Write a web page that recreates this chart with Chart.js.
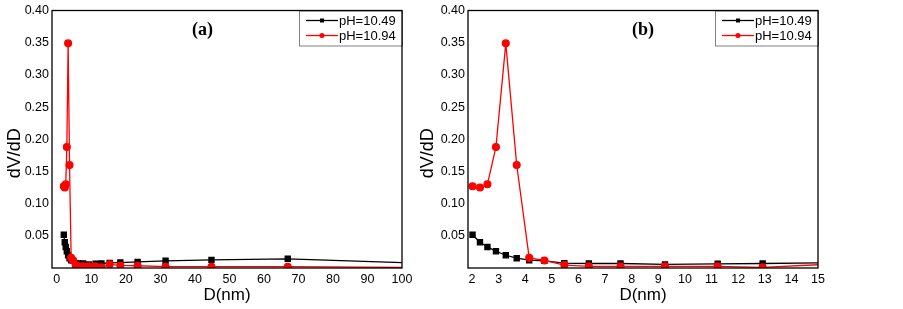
<!DOCTYPE html>
<html lang="en">
<head>
<meta charset="UTF-8">
<title>dV/dD vs D</title>
<script src="https://cdn.jsdelivr.net/npm/chart.js"></script>
<style>
  body { margin: 0; background: #fff; }
  canvas { position: absolute; top: 0; }
  #chartA { left: 0; }
  #chartB { left: 405px; }
</style>
</head>
<body>
<canvas id="chartA" width="420" height="309"></canvas>
<canvas id="chartB" width="498" height="309"></canvas>
<script>
// pore diameter D (nm) (b) and the tail of panel (a)
const diameters = [2.02, 2.3, 2.58, 2.9, 3.27, 3.68, 4.15, 4.72, 5.47, 6.39, 7.58, 9.25, 11.23, 12.92,
                   15.3, 18.4, 23.4, 31.5, 44.8, 66.9, 125];
// dV/dD at pH=10.49
const dvLow = [0.0516, 0.040, 0.0327, 0.026, 0.0198, 0.0152, 0.0121, 0.011, 0.0075, 0.007, 0.007, 0.0055, 0.0065, 0.007,
               0.008, 0.0085, 0.0095, 0.0112, 0.0127, 0.0143, 0.004];
// dV/dD at pH=10.94
const dvHigh = [0.127, 0.125, 0.130, 0.188, 0.349, 0.160, 0.0158, 0.0117, 0.0045, 0.0025, 0.0025, 0.0025, 0.0025, 0.001,
                0.0056, 0.004, 0.0035, 0.002, 0.002, 0.002, 0.0];
const seriesNames = ['pH=10.49', 'pH=10.94'];
const yTicks = [0.05, 0.10, 0.15, 0.20, 0.25, 0.30, 0.35, 0.40];
const xTicksA = [0, 10, 20, 30, 40, 50, 60, 70, 80, 90, 100];
const xTicksB = [2, 3, 4, 5, 6, 7, 8, 9, 10, 11, 12, 13, 14, 15];

const FONT = '"Liberation Sans", Arial, sans-serif';

// frame, legend box, panel tag and y title
const panelDecor = {
    id: 'panelDecor',
    afterDraw(chart, args, opts) {
        const ctx = chart.ctx;
        const a = chart.chartArea;
        ctx.save();

        // legend box in the top right corner
        const w = 103, h = 35, x0 = a.right - w, y0 = a.top;
        ctx.fillStyle = '#fff';
        ctx.fillRect(x0, y0, w, h);
        ctx.strokeStyle = '#808080';
        ctx.lineWidth = 1;
        ctx.strokeRect(x0 + 0.5, y0 + 0.5, w, h);
        ctx.font = '13px ' + FONT;
        ctx.textBaseline = 'middle';
        ctx.textAlign = 'left';
        chart.data.datasets.forEach((ds, i) => {
            const y = y0 + 10 + i * 15;
            ctx.strokeStyle = ds.borderColor;
            ctx.lineWidth = 1.3;
            ctx.beginPath();
            ctx.moveTo(x0 + 7, y);
            ctx.lineTo(x0 + 39, y);
            ctx.stroke();
            ctx.fillStyle = ds.borderColor;
            if (ds.pointStyle === 'rect') {
                ctx.fillRect(x0 + 21, y - 2, 4, 4);
            } else {
                ctx.beginPath();
                ctx.arc(x0 + 23, y, 2.5, 0, Math.PI * 2);
                ctx.fill();
            }
            ctx.fillStyle = '#000';
            ctx.fillText(ds.label, x0 + 40, y + 0.5);
        });

        // plot frame
        ctx.strokeStyle = '#000';
        ctx.lineWidth = 1.3;
        ctx.strokeRect(a.left, a.top, a.right - a.left, a.bottom - a.top);

        // panel tag
        ctx.fillStyle = '#000';
        ctx.font = 'bold 18px "Liberation Serif", serif';
        ctx.textAlign = 'center';
        ctx.fillText(opts.tag, a.left + opts.tagAt * (a.right - a.left), a.top + 20);

        // y axis title
        ctx.translate(opts.yTitleX, (a.top + a.bottom) / 2 + 14);
        ctx.rotate(-Math.PI / 2);
        ctx.font = '18px ' + FONT;
        ctx.fillText('dV/dD', 0, 0);
        ctx.restore();
    }
};

function makeChart(id, xMin, xMax, xTicks, yAxisWidth, rightPad, tag, tagAt, yTitleX) {
    return new Chart(document.getElementById(id), {
        type: 'line',
        data: {
            datasets: [
                {
                    label: seriesNames[0],
                    data: diameters.map((d, i) => ({ x: d, y: dvLow[i] })),
                    borderColor: '#000',
                    backgroundColor: '#000',
                    borderWidth: 1.3,
                    pointStyle: 'rect',
                    pointRadius: 3.6,
                    order: 1
                },
                {
                    label: seriesNames[1],
                    data: diameters.map((d, i) => ({ x: d, y: dvHigh[i] })),
                    borderColor: '#ff0000',
                    backgroundColor: '#ff0000',
                    borderWidth: 1.3,
                    pointStyle: 'circle',
                    pointRadius: 3.4,
                    order: 0
                }
            ]
        },
        options: {
            responsive: false,
            animation: false,
            layout: { padding: { top: 8, right: rightPad, left: 0, bottom: 0 } },
            plugins: {
                legend: { display: false },
                tooltip: { enabled: false },
                panelDecor: { tag: tag, tagAt: tagAt, yTitleX: yTitleX }
            },
            scales: {
                x: {
                    type: 'linear',
                    min: xMin,
                    max: xMax,
                    grid: { display: false, drawTicks: false },
                    border: { display: false },
                    afterBuildTicks: axis => { axis.ticks = xTicks.map(v => ({ value: v })); },
                    afterFit: axis => { axis.height = 41; },
                    ticks: {
                        padding: 4,
                        maxRotation: 0,
                        autoSkip: false,
                        color: '#000',
                        font: { family: FONT, size: 12.5 },
                        callback: v => String(v)
                    },
                    title: {
                        display: true,
                        text: 'D(nm)',
                        color: '#000',
                        font: { family: FONT, size: 17 },
                        padding: { top: 0, bottom: 3 }
                    }
                },
                y: {
                    min: 0,
                    max: 0.4,
                    grid: { display: false, drawTicks: false },
                    border: { display: false },
                    afterBuildTicks: axis => { axis.ticks = yTicks.map(v => ({ value: v })); },
                    afterFit: axis => { axis.width = yAxisWidth; },
                    ticks: {
                        padding: 3,
                        color: '#000',
                        font: { family: FONT, size: 12.5 },
                        callback: v => v.toFixed(2)
                    }
                }
            }
        },
        plugins: [panelDecor]
    });
}

makeChart('chartA', -1.4, 100, xTicksA, 52, 18, '(a)', 0.43, 15);
makeChart('chartB', 1.85, 15, xTicksB, 63, 85, '(b)', 0.5, 23);
</script>
</body>
</html>
